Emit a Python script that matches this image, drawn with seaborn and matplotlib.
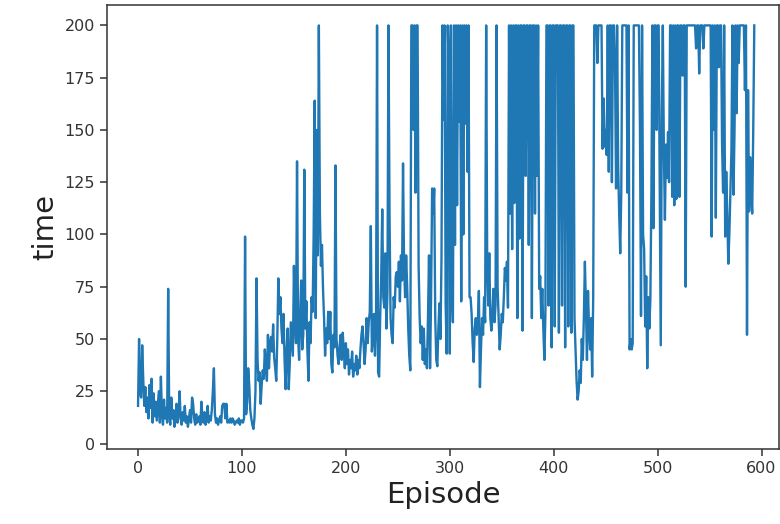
import numpy as np
import pandas as pd
import matplotlib
matplotlib.use("Agg")
import matplotlib.pyplot as plt
import seaborn as sns

# time survived per episode in blocks of 100 episodes
time_0_99 = [18, 50, 24, 22, 47, 31, 18, 27, 15, 22,
             12, 28, 17, 31, 10, 24, 13, 20, 11, 18,
             25, 10, 32, 14, 9, 21, 12, 17, 10, 74,
             14, 9, 22, 12, 16, 8, 11, 19, 10, 14,
             25, 12, 9, 15, 11, 18, 10, 13, 8, 12,
             16, 10, 22, 19, 12, 9, 14, 10, 11, 13,
             9, 20, 12, 10, 15, 9, 12, 18, 10, 13,
             11, 16, 25, 36, 14, 10, 12, 9, 11, 13,
             10, 18, 19, 19, 12, 19, 10, 11, 10, 12,
             10, 12, 11, 9, 10, 11, 10, 12, 9, 11]

time_100_199 = [11, 10, 12, 99, 14, 20, 36, 28, 16, 12,
                9, 7, 12, 25, 79, 40, 30, 34, 19, 28,
                35, 31, 45, 38, 30, 52, 36, 48, 51, 44,
                57, 41, 36, 30, 50, 79, 62, 70, 55, 48,
                62, 40, 26, 45, 55, 26, 38, 58, 50, 42,
                85, 60, 48, 135, 51, 40, 62, 78, 45, 52,
                131, 55, 68, 44, 30, 58, 48, 70, 63, 100,
                164, 60, 150, 90, 200, 110, 85, 95, 74, 60,
                42, 55, 48, 63, 50, 63, 38, 34, 52, 46,
                133, 50, 42, 38, 47, 52, 40, 53, 44, 36]

time_200_299 = [48, 38, 45, 33, 40, 36, 44, 32, 38, 35,
                42, 33, 40, 36, 45, 52, 56, 48, 38, 45,
                60, 48, 58, 63, 104, 44, 50, 62, 42, 55,
                200, 34, 32, 60, 80, 112, 70, 65, 91, 55,
                72, 200, 110, 60, 52, 48, 70, 65, 80, 82,
                75, 87, 68, 90, 78, 134, 85, 70, 90, 75,
                55, 42, 35, 200, 200, 150, 200, 120, 200, 200,
                85, 60, 48, 56, 40, 55, 38, 45, 36, 60,
                90, 36, 70, 122, 110, 122, 60, 40, 37, 55,
                67, 50, 88, 200, 155, 200, 67, 43, 200, 180]

time_300_399 = [43, 200, 75, 58, 200, 95, 200, 114, 200, 154,
                200, 68, 200, 100, 200, 153, 200, 130, 200, 70,
                70, 62, 48, 39, 55, 60, 52, 58, 73, 27,
                45, 60, 52, 70, 58, 200, 85, 66, 91, 60,
                54, 62, 74, 58, 66, 200, 75, 60, 45, 52,
                62, 58, 70, 84, 78, 87, 65, 200, 110, 200,
                93, 200, 115, 200, 200, 60, 200, 98, 200, 200,
                54, 200, 200, 128, 200, 200, 95, 200, 200, 60,
                200, 200, 110, 200, 128, 200, 74, 80, 60, 74,
                55, 40, 62, 200, 200, 66, 200, 200, 46, 200]

time_400_499 = [200, 56, 200, 200, 200, 53, 200, 200, 66, 200,
                200, 46, 200, 200, 56, 200, 200, 53, 200, 200,
                60, 45, 30, 21, 25, 35, 29, 50, 40, 60,
                87, 66, 40, 73, 55, 45, 60, 32, 70, 200,
                200, 200, 182, 200, 200, 200, 200, 141, 165, 142,
                150, 138, 200, 130, 200, 200, 125, 200, 200, 180,
                122, 200, 133, 110, 91, 120, 200, 200, 200, 200,
                200, 120, 200, 45, 50, 45, 48, 200, 200, 200,
                200, 200, 200, 150, 61, 200, 100, 93, 56, 80,
                36, 70, 55, 69, 120, 200, 103, 200, 200, 150]

time_500_593 = [200, 200, 120, 47, 157, 200, 140, 107, 143, 127,
                149, 125, 200, 200, 118, 200, 114, 200, 117, 200,
                200, 118, 200, 200, 176, 200, 200, 75, 200, 200,
                200, 200, 200, 200, 200, 200, 200, 189, 200, 200,
                177, 200, 200, 200, 189, 200, 200, 200, 200, 200,
                200, 200, 99, 200, 150, 200, 108, 200, 200, 180,
                200, 200, 143, 120, 200, 99, 130, 110, 86, 100,
                120, 140, 200, 119, 150, 200, 158, 200, 182, 200,
                200, 200, 200, 200, 169, 200, 52, 169, 111, 137,
                120, 110, 150, 200]

time = (time_0_99 + time_100_199 + time_200_299 + time_300_399
        + time_400_499 + time_500_593)
df = pd.DataFrame({"Episode": np.arange(len(time)), "time": time})

fig = plt.figure(figsize=(7.8, 5.24), dpi=100)
ax = fig.add_axes([0.137, 0.143, 0.862, 0.847])

sns.lineplot(data=df, x="Episode", y="time", ax=ax, color="#1f77b4",
             linewidth=1.7, estimator=None)

ax.set_xlim(-30, 617)
ax.set_xticks([0, 100, 200, 300, 400, 500, 600])
ax.set_yticks([0, 25, 50, 75, 100, 125, 150, 175, 200])
ax.tick_params(labelsize=11.5, length=5, width=1.1, colors="#333333")
for s in ax.spines.values():
    s.set_linewidth(1.1)
    s.set_color("#333333")
ax.set_xlabel("Episode", fontsize=21, color="#222222")
ax.set_ylabel("time", fontsize=21, color="#222222")

fig.savefig("out.png", dpi=100)
